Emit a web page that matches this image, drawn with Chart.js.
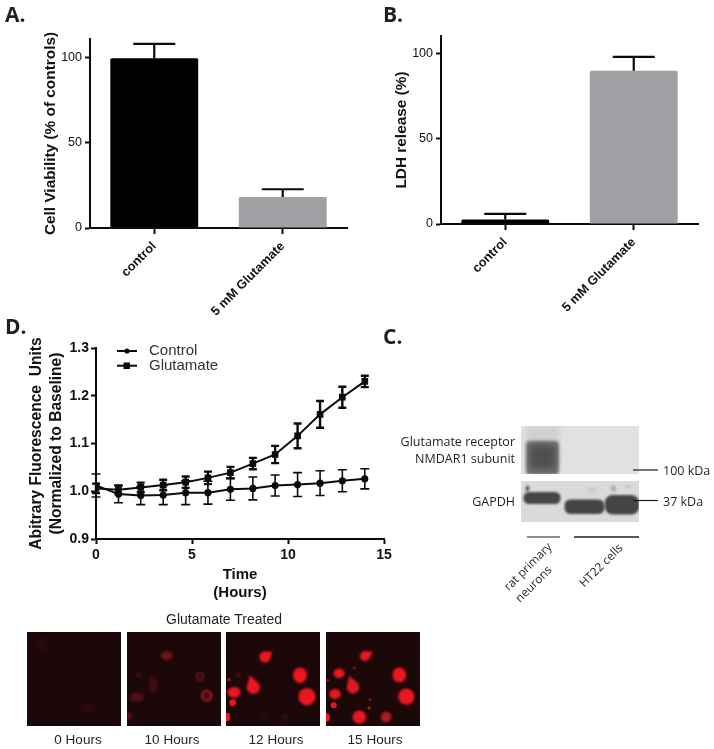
<!DOCTYPE html>
<html>
<head>
<meta charset="utf-8">
<script src="https://cdn.jsdelivr.net/npm/chart.js@4"></script>
<style>
html,body{margin:0;padding:0;background:#fff;width:714px;height:749px;overflow:hidden}
canvas{position:absolute;display:block}
.t{position:absolute;white-space:nowrap;line-height:1;color:#231f20}
.letter{font:700 21px "Open Sans",sans-serif;transform:translateY(-50%)}
.blot{font:12.5px "Open Sans",sans-serif;transform:translateY(-50%)}
.blotr{font:12.5px "Open Sans",sans-serif;transform:translate(-100%,-50%)}
.rot{font:11.8px "Open Sans",sans-serif;transform:translate(-100%,-50%) rotate(-45deg);transform-origin:100% 50%}
.cap{font:13.5px "Liberation Sans",sans-serif;transform:translate(-50%,-50%)}
</style>
</head>
<body>
<canvas id="art" width="714" height="749" style="left:0;top:0;filter:blur(0.4px)"></canvas>
<canvas id="chartA" width="357" height="320" style="left:0;top:0"></canvas>
<canvas id="chartB" width="357" height="320" style="left:357px;top:0"></canvas>
<canvas id="chartD" width="400" height="280" style="left:0;top:330px"></canvas>

<div class="t letter" style="left:5px;top:14px">A.</div>
<div class="t letter" style="left:383px;top:14px">B.</div>
<div class="t letter" style="left:5px;top:326px">D.</div>
<div class="t letter" style="left:383px;top:336px">C.</div>

<div class="t blotr" style="left:515px;top:441px">Glutamate receptor</div>
<div class="t blotr" style="left:515px;top:458px">NMDAR1 subunit</div>
<div class="t blotr" style="left:515px;top:501px">GAPDH</div>
<div class="t blot" style="left:663px;top:470px">100 kDa</div>
<div class="t blot" style="left:663px;top:501px">37 kDa</div>
<div class="t rot" style="left:549px;top:544px">rat primary</div>
<div class="t rot" style="left:549px;top:567px">neurons</div>
<div class="t rot" style="left:620px;top:545px">HT22 cells</div>

<div class="t cap" style="left:224px;top:619px;font-size:14px">Glutamate Treated</div>
<div class="t cap" style="left:78px;top:739px">0 Hours</div>
<div class="t cap" style="left:172px;top:739px">10 Hours</div>
<div class="t cap" style="left:276px;top:739px">12 Hours</div>
<div class="t cap" style="left:375px;top:739px">15 Hours</div>

<script>
// ---------- data ----------
const barCategories = ['control', '5 mM Glutamate'];
const viabilityMeans = [99.4, 18.2];
const viabilityErrors = [8.4, 4.5];
const ldhMeans = [2.7, 90];
const ldhErrors = [3.2, 8.2];
const barColors = ['#000000', '#a0a1a4'];

const hours = [0, 1.17, 2.33, 3.5, 4.67, 5.83, 7, 8.17, 9.33, 10.5, 11.67, 12.83, 14];
const controlMeans = [1.012, 0.994, 0.991, 0.992, 0.997, 0.997, 1.004, 1.006, 1.012, 1.014, 1.017, 1.022, 1.026];
const controlErrors = [0.024, 0.018, 0.019, 0.02, 0.025, 0.024, 0.023, 0.024, 0.022, 0.025, 0.026, 0.023, 0.021];
const glutamateMeans = [1.006, 1.003, 1.008, 1.013, 1.019, 1.028, 1.039, 1.058, 1.077, 1.116, 1.161, 1.197, 1.23];
const glutamateErrors = [0.01, 0.009, 0.01, 0.011, 0.012, 0.013, 0.012, 0.012, 0.018, 0.026, 0.028, 0.022, 0.012];

const INK = '#0b0b0b';
const TICK_FONT = {family: '"Liberation Sans", Arial, sans-serif', size: 12.5, weight: 'normal'};
const TITLE_FAMILY = '"Liberation Sans", Arial, sans-serif';

// ---------- error bars, read through the chart's own scales ----------
const errorBars = {
  id: 'errorBars',
  afterDatasetsDraw(chart, args, opts) {
    const ctx = chart.ctx, y = chart.scales.y;
    (opts.sets || []).forEach(set => {
      const meta = chart.getDatasetMeta(set.dataset);
      const values = chart.data.datasets[set.dataset].data;
      ctx.save();
      ctx.strokeStyle = INK;
      ctx.lineWidth = set.width;
      meta.data.forEach((el, i) => {
        const v = typeof values[i] === 'object' ? values[i].y : values[i];
        const top = y.getPixelForValue(v + set.errors[i]);
        const bottom = set.upperOnly ? y.getPixelForValue(v) : y.getPixelForValue(v - set.errors[i]);
        ctx.beginPath();
        ctx.moveTo(el.x, bottom); ctx.lineTo(el.x, top);
        ctx.moveTo(el.x - set.cap / 2, top); ctx.lineTo(el.x + set.cap / 2, top);
        if (!set.upperOnly) { ctx.moveTo(el.x - set.cap / 2, bottom); ctx.lineTo(el.x + set.cap / 2, bottom); }
        ctx.stroke();
      });
      ctx.restore();
    });
  }
};

// ---------- legend for panel D: line-and-marker keys ----------
const lineLegend = {
  id: 'lineLegend',
  afterDraw(chart) {
    const ctx = chart.ctx;
    ctx.save();
    chart.data.datasets.forEach((ds, i) => {
      const yy = 21 + i * 14.7;
      ctx.strokeStyle = INK; ctx.fillStyle = INK; ctx.lineWidth = 2;
      ctx.beginPath(); ctx.moveTo(117, yy); ctx.lineTo(137, yy); ctx.stroke();
      if (ds.pointStyle === 'rect') ctx.fillRect(123.5, yy - 3.2, 6.5, 6.5);
      else { ctx.beginPath(); ctx.arc(127, yy, 2.6, 0, Math.PI * 2); ctx.fill(); }
      ctx.font = '15px "Liberation Sans", Arial, sans-serif';
      ctx.fillStyle = '#333';
      ctx.textBaseline = 'middle';
      ctx.fillText(ds.label, 149, yy);
    });
    ctx.restore();
  }
};

function barChart(id, means, errors, yTitle, yTop, yWidth, right, top, xHeight, titlePad) {
  new Chart(document.getElementById(id), {
    type: 'bar',
    data: {labels: barCategories, datasets: [{label: yTitle, data: means, backgroundColor: barColors,
      categoryPercentage: 1, barPercentage: 0.684, borderRadius: 1.5, borderSkipped: 'bottom'}]},
    plugins: [errorBars],
    options: {
      responsive: false, animation: false,
      layout: {padding: {top: top, right: right, left: 0, bottom: 0}},
      plugins: {legend: {display: false}, tooltip: {enabled: false},
        errorBars: {sets: [{dataset: 0, errors: errors, width: 2.2, cap: 42, upperOnly: true}]}},
      scales: {
        x: {
          afterFit(s) { s.height = xHeight; },
          grid: {offset: false, drawOnChartArea: false, drawTicks: true, tickLength: 6, tickColor: INK, tickWidth: 2},
          border: {color: INK, width: 2},
          ticks: {maxRotation: 45, minRotation: 45, padding: 5, color: '#111',
            font: {family: TITLE_FAMILY, size: 12.7, weight: 'bold'}}
        },
        y: {
          min: 0, max: yTop,
          afterFit(s) { s.width = yWidth; },
          grid: {drawOnChartArea: false, drawTicks: true, tickLength: 5, tickColor: INK, tickWidth: 2},
          border: {color: INK, width: 2},
          ticks: {stepSize: 50, includeBounds: false, padding: 3, color: '#111', font: TICK_FONT},
          title: {display: true, text: yTitle, color: '#111', padding: {top: titlePad, bottom: 0},
            font: {family: TITLE_FAMILY, size: 15.4, weight: 'bold'}}
        }
      }
    }
  });
}

barChart('chartA', viabilityMeans, viabilityErrors, 'Cell Viability (% of controls)', 110.7, 90, 10, 39, 92, 41.5);
barChart('chartB', ldhMeans, ldhErrors, 'LDH release (%)', 110.4, 84, 16, 36, 96, 35.5);

const pairs = (xs, ys) => xs.map((x, i) => ({x: x, y: ys[i]}));
new Chart(document.getElementById('chartD'), {
  type: 'line',
  data: {datasets: [
    {label: 'Control', data: pairs(hours, controlMeans), borderColor: INK, backgroundColor: INK,
      borderWidth: 2, pointStyle: 'circle', pointRadius: 2.6, tension: 0},
    {label: 'Glutamate', data: pairs(hours, glutamateMeans), borderColor: INK, backgroundColor: INK,
      borderWidth: 2, pointStyle: 'rect', pointRadius: 3.3, tension: 0}
  ]},
  plugins: [errorBars, lineLegend],
  options: {
    responsive: false, animation: false,
    layout: {padding: {top: 18, right: 16, left: 0, bottom: 0}},
    plugins: {legend: {display: false}, tooltip: {enabled: false},
      errorBars: {sets: [
        {dataset: 0, errors: controlErrors, width: 1.6, cap: 9},
        {dataset: 1, errors: glutamateErrors, width: 2.4, cap: 8}
      ]}},
    scales: {
      x: {
        type: 'linear', min: 0, max: 15,
        afterFit(s) { s.height = 71; },
        grid: {drawOnChartArea: false, drawTicks: true, tickLength: 5, tickColor: INK, tickWidth: 2},
        border: {color: INK, width: 2},
        ticks: {stepSize: 5, padding: 3, maxRotation: 0, color: '#111',
          font: {family: TITLE_FAMILY, size: 14, weight: 'bold'}},
        title: {display: true, text: ['Time', '(Hours)'], color: '#111', padding: {top: 0, bottom: 8.5},
          font: {family: TITLE_FAMILY, size: 15, weight: 'bold', lineHeight: 1.2}}
      },
      y: {
        min: 0.9, max: 1.3,
        afterFit(s) { s.width = 96; },
        grid: {drawOnChartArea: false, drawTicks: true, tickLength: 5, tickColor: INK, tickWidth: 2},
        border: {color: INK, width: 2},
        ticks: {stepSize: 0.1, padding: 2, color: '#111', callback: v => v.toFixed(1),
          font: {family: TITLE_FAMILY, size: 14, weight: 'bold'}},
        title: {display: true, text: ['Abitrary Fluorescence  Units', '(Normalized to Baseline)'], color: '#111',
          padding: {top: 26.7, bottom: 0},
          font: {family: TITLE_FAMILY, size: 15.6, weight: 'bold', lineHeight: 1.282}}
      }
    }
  }
});

// ---------- photographic insets (blot and micrographs), not chart data ----------
const art = document.getElementById('art').getContext('2d');
const zx = x => 20 + x / 3, zy = y => 605 + y / 3;           // micrograph sketch coordinates
function spot(x, y, rx, ry, color, blur) {
  art.save(); art.filter = 'blur(' + blur + 'px)'; art.fillStyle = color;
  art.beginPath(); art.ellipse(x, y, rx, ry, 0, 0, Math.PI * 2); art.fill(); art.restore();
}
function tear(x, y, r, tipX, tipY, color) {
  art.save(); art.filter = 'blur(0.8px)'; art.fillStyle = color;
  const a = Math.atan2(tipY - y, tipX - x);
  const off = Math.asin(Math.min(1, r / Math.hypot(tipX - x, tipY - y)));
  art.beginPath();
  art.moveTo(tipX, tipY);
  art.arc(x, y, r, a + Math.PI / 2 - off, a - Math.PI / 2 + off);
  art.closePath(); art.fill(); art.restore();
}
function band(x, y, w, h, r, color, blur) {
  art.save(); art.filter = 'blur(' + blur + 'px)'; art.fillStyle = color;
  art.beginPath(); art.roundRect(x, y, w, h, r); art.fill(); art.restore();
}
const panelX = [26.7, 126.7, 226.3, 326.3];
panelX.forEach(x => { art.fillStyle = '#1c0709'; art.fillRect(Math.round(x), 632, 94, 94); });
const clipPanel = (i, fn) => { art.save(); art.beginPath(); art.rect(Math.round(panelX[i]), 632, 94, 94); art.clip(); fn(); art.restore(); };
const RED = '#ea1720';
clipPanel(0, () => {
  spot(zx(65), zy(118), 5, 6, '#2e0c0e', 2);
  spot(zx(205), zy(310), 7, 5, '#2e0c0e', 2);
});
clipPanel(1, () => {
  spot(zx(440), zy(152), 6, 4.5, '#6e1316', 1.2);
  spot(zx(540), zy(215), 5, 5, '#591114', 1.2);
  spot(zx(540), zy(215), 2.2, 2.5, '#34090b', 1);
  spot(zx(560), zy(272), 6, 6, '#8e1a1e', 1);
  spot(zx(560), zy(272), 3, 3.5, '#3a0a0c', 1);
  spot(zx(400), zy(240), 4, 9, '#420d0f', 1.5);
  spot(zx(350), zy(277), 7, 4.5, '#560f12', 1.5);
  spot(zx(355), zy(210), 3, 2.5, '#420d0f', 1);
  spot(zx(327), zy(332), 3, 4, '#560f12', 1);
});
const px = x => 220 + x / 3, py = y => 628 + y / 3;          // enlarged micrograph coordinates
clipPanel(2, () => {
  tear(px(135), py(87), 5.6, px(156), py(71), RED);
  spot(px(240), py(142), 7, 7.8, RED, 0.8);
  spot(px(261), py(206), 8.6, 8.6, RED, 0.8);
  tear(px(100), py(178), 6.6, px(90), py(142), RED);
  spot(px(42), py(193), 6.6, 5.4, RED, 0.8);
  spot(px(38), py(224), 3.3, 3.3, RED, 0.6);
  spot(px(27), py(155), 1.8, 1.6, '#a01418', 0.6);
  spot(px(55), py(140), 2.2, 2.2, '#4e0f11', 0.8);
  spot(px(22), py(267), 2.8, 4.2, RED, 0.6);
  spot(px(132), py(262), 4, 3, '#330b0d', 1.5);
  spot(px(195), py(268), 4, 3, '#330b0d', 1.5);
});
clipPanel(3, () => {
  tear(px(435), py(84), 5, px(458), py(71), RED);
  spot(px(357), py(136), 5.6, 4.8, RED, 0.8);
  spot(px(538), py(141), 6.9, 7.4, RED, 0.8);
  spot(px(559), py(206), 8.1, 8.1, RED, 0.8);
  tear(px(399), py(178), 6.3, px(388), py(143), '#d81a22');
  spot(px(345), py(198), 5.8, 5, RED, 0.8);
  spot(px(341), py(232), 3, 3, RED, 0.6);
  spot(px(418), py(267), 6.8, 6.6, RED, 0.8);
  spot(px(498), py(267), 5.4, 5.4, '#a81b20', 1.1);
  spot(px(450), py(215), 1.3, 1.3, '#8a1417', 0.5);
  spot(px(447), py(240), 1.7, 1.7, '#a01418', 0.5);
  spot(px(322), py(268), 2.6, 4.2, RED, 0.6);
  spot(px(323), py(157), 1.5, 1.3, '#8a1417', 0.5);
  spot(px(403), py(120), 1.8, 1.8, '#5a1113', 0.7);
});
// western blot
art.fillStyle = '#e1e1e1'; art.fillRect(521, 426, 118, 48);
art.fillStyle = '#dadada'; art.fillRect(521, 481, 118, 41);
const clipBlot = (x, y, w, h, fn) => { art.save(); art.beginPath(); art.rect(x, y, w, h); art.clip(); fn(); art.restore(); };
clipBlot(521, 426, 118, 48, () => {
  band(526, 426, 33, 20, 2, '#d0d0d0', 2.5);
  band(526, 441, 33, 34, 4, '#707072', 1.8);
  band(530, 445, 25, 24, 4, '#4f4f51', 3);
});
clipBlot(521, 481, 118, 41, () => {
  band(523.5, 492, 37, 12, 5.5, '#464648', 0.8);
  spot(527.5, 488.5, 1.8, 3, '#5a5a5c', 0.9);
  band(564.5, 499.5, 40, 14.5, 6, '#444446', 0.8);
  band(605, 495, 34, 19.5, 7.5, '#444446', 0.8);
  spot(592, 490, 4, 2, '#c4c4c4', 1.5);
  spot(613.5, 488.5, 2.5, 3, '#aaaaaa', 1.1);
  spot(628, 486.5, 3, 1.8, '#c4c4c4', 1);
});
art.strokeStyle = '#1c1c1c'; art.lineWidth = 1.2;
[[633, 658, 470], [633, 658, 500.5], [527, 560, 537]].forEach(l => {
  art.beginPath(); art.moveTo(l[0], l[2]); art.lineTo(l[1], l[2]); art.stroke();
});
art.lineWidth = 1.6;
art.beginPath(); art.moveTo(574, 537); art.lineTo(639, 537); art.stroke();
</script>
</body>
</html>
